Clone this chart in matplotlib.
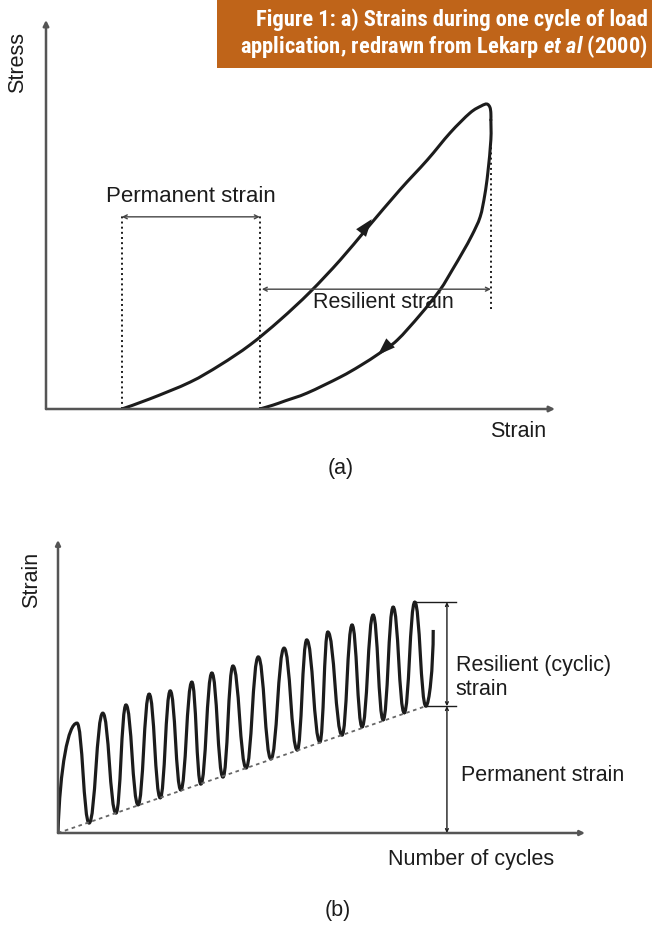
import matplotlib
matplotlib.use("Agg")
import matplotlib.pyplot as plt
from matplotlib import font_manager
from matplotlib.path import Path
from matplotlib.patches import PathPatch, Rectangle

#### Data ####
# (a) one load cycle: strain / stress on a 0-100 scale
load_strain = [14.9, 20.4, 28.3, 34.2, 40.1, 46.0, 51.9, 57.8, 63.1, 69.5, 74.9, 79.4, 83.3, 85.5, 86.6, 87.2, 87.4, 87.4]
load_stress = [0.0, 2.6, 6.9, 11.3, 16.5, 22.9, 30.1, 38.3, 46.5, 56.3, 64.0, 71.0, 76.1, 77.9, 78.4, 77.6, 76.1, 74.3]
unload_strain = [87.4, 87.4, 86.8, 86.2, 85.3, 83.7, 81.9, 79.8, 77.4, 73.5, 69.0, 65.6, 61.7, 57.8, 51.3, 47.0, 44.6, 42.0]
unload_stress = [74.3, 69.2, 60.7, 55.0, 49.4, 44.7, 40.4, 35.7, 30.6, 24.2, 17.7, 14.4, 11.1, 8.2, 4.1, 2.1, 1.0, 0.0]
perm_start, perm_end = 14.9, 42.0  # permanent strain
res_end = 87.4                     # end of resilient strain
perm_level, res_level = 49.4, 30.8

# (b) strain vs number of cycles: peaks and troughs
peak_x = [3.6, 8.5, 12.9, 17.3, 21.3, 25.4, 29.2, 33.2, 38.0, 42.9, 47.2, 51.2, 55.8, 59.8, 63.6, 67.7]
peak_y = [37.5, 40.9, 43.7, 47.4, 48.5, 51.5, 54.6, 57.0, 60.1, 63.1, 65.9, 68.6, 71.0, 74.4, 77.1, 78.8]
trough_x = [5.9, 11.0, 15.2, 19.4, 23.3, 27.1, 31.3, 35.7, 40.4, 45.4, 49.7, 53.9, 57.7, 61.7, 65.7, 69.8]
trough_y = [3.4, 6.8, 9.6, 12.0, 14.7, 16.7, 19.1, 22.2, 25.3, 28.3, 31.1, 33.4, 36.2, 38.6, 41.0, 43.3]
last_x, last_y = 71.2, 69.3  # partial last cycle

INK = "#1c1c1c"
AXC = "#555555"
FS = 15.5
plt.rcParams["font.family"] = ["Liberation Sans", "DejaVu Sans"]

# title needs a narrow bold face, take one if it is there
title_family, title_size, title_stretch = "Roboto", 13.5, "normal"
for f in font_manager.fontManager.ttflist:
    if f.name in ("Liberation Sans Narrow", "Roboto Condensed", "Open Sans Condensed"):
        title_family, title_size, title_stretch = f.name, 16.2, "normal"
        break
    if f.name == "DejaVu Sans" and str(f.stretch) in ("condensed", "semi-condensed"):
        title_family, title_size, title_stretch = "DejaVu Sans", 14, "condensed"
plt.rcParams["mathtext.fontset"] = "custom"
plt.rcParams["mathtext.rm"] = title_family + ":bold"
plt.rcParams["mathtext.it"] = title_family + ":italic:bold"


def smooth(xs, ys):
    # Catmull-Rom spline through the points, drawn as bezier path
    pts = list(zip(xs, ys))
    verts = [pts[0]]
    codes = [Path.MOVETO]
    n = len(pts)
    for i in range(n - 1):
        p0 = pts[max(i - 1, 0)]
        p1 = pts[i]
        p2 = pts[i + 1]
        p3 = pts[min(i + 2, n - 1)]
        c1 = (p1[0] + (p2[0] - p0[0]) / 6, p1[1] + (p2[1] - p0[1]) / 6)
        c2 = (p2[0] - (p3[0] - p1[0]) / 6, p2[1] - (p3[1] - p1[1]) / 6)
        verts += [c1, c2, p2]
        codes += [Path.CURVE4] * 3
    return Path(verts, codes)


def arrow(ax, start, end, style="-|>", color=INK, lw=1.0, ms=10):
    ax.annotate("", xy=end, xytext=start, annotation_clip=False,
                arrowprops=dict(arrowstyle=style, color=color, lw=lw,
                                mutation_scale=ms, shrinkA=0, shrinkB=0))


fig = plt.figure(figsize=(6.52, 9.42), dpi=100)

# title box
fig.add_artist(Rectangle((217 / 652, 1 - 68 / 942), 1, 68 / 942,
                         transform=fig.transFigure, color="#bf6419", lw=0))
fig.text(0.994, 1 - 20 / 942, "Figure 1: a) Strains during one cycle of load",
         ha="right", va="center", color="white", fontsize=title_size,
         family=[title_family, "DejaVu Sans"], stretch=title_stretch, weight="bold")
fig.text(0.994, 1 - 47 / 942, r"application, redrawn from Lekarp $\mathit{et\ al}$ (2000)",
         ha="right", va="center", color="white", fontsize=title_size,
         family=[title_family, "DejaVu Sans"], stretch=title_stretch, weight="bold")

#### Figure (a) ####
ax1 = fig.add_axes([46 / 652, 1 - 409 / 942, (555 - 46) / 652, (409 - 20) / 942])
ax1.set_xlim(0, 100)
ax1.set_ylim(0, 100)
ax1.axis("off")

arrow(ax1, (0, 0), (0, 100), color=AXC, lw=1.8, ms=8)
arrow(ax1, (0, 0), (100, 0), color=AXC, lw=1.8, ms=8)

ax1.add_patch(PathPatch(smooth(load_strain, load_stress), fill=False, lw=2.2, color=INK, capstyle="round"))
ax1.add_patch(PathPatch(smooth(unload_strain, unload_stress), fill=False, lw=2.2, color=INK, capstyle="round"))
# direction arrows on the loop
head = "-|>,head_length=0.9,head_width=0.32"
arrow(ax1, (load_strain[7], load_stress[7]), (64.0, 48.8), style=head, ms=14, lw=0)
arrow(ax1, (unload_strain[9], unload_stress[9]), (65.2, 13.9), style=head, ms=14, lw=0)

# dotted guide lines
ax1.plot([perm_start, perm_start], [0, perm_level + 0.5], ":", color=INK, lw=1.4)
ax1.plot([perm_end, perm_end], [0, perm_level + 0.5], ":", color=INK, lw=1.4)
ax1.plot([res_end, res_end], [res_level - 5, unload_stress[0]], ":", color=INK, lw=1.4)

arrow(ax1, (perm_start, perm_level), (perm_end, perm_level), style="<->", color="#444444", lw=1.0, ms=7)
arrow(ax1, (perm_end + 0.4, res_level), (res_end, res_level), style="<->", color="#444444", lw=1.0, ms=7)

ax1.text((perm_start + perm_end) / 2, 54.5, "Permanent strain", ha="center", va="center", fontsize=FS + 0.5, color=INK)
ax1.text(66.2, 27.3, "Resilient strain", ha="center", va="center", fontsize=FS, color=INK)
ax1.text(-5.5, 89, "Stress", rotation=90, ha="center", va="center", fontsize=FS, color=INK)
ax1.text(92.7, -5.9, "Strain", ha="center", va="center", fontsize=FS, color=INK)
ax1.text(57.8, -15.2, "(a)", ha="center", va="center", fontsize=FS, color=INK)

#### Figure (b) ####
ax2 = fig.add_axes([58 / 652, 1 - 833 / 942, (585 - 58) / 652, (833 - 540) / 942])
ax2.set_xlim(0, 100)
ax2.set_ylim(0, 100)
ax2.axis("off")

arrow(ax2, (0, 0), (0, 100), color=AXC, lw=1.8, ms=7)
arrow(ax2, (0, 0), (100, 0), color=AXC, lw=1.8, ms=7)

# wave through the extremes, flat at each peak and trough
ext_x = [0.0]
ext_y = [0.0]
for i in range(len(peak_x)):
    ext_x += [peak_x[i], trough_x[i]]
    ext_y += [peak_y[i], trough_y[i]]
verts = [(ext_x[0], ext_y[0])]
codes = [Path.MOVETO]
for i in range(len(ext_x) - 1):
    x0, y0, x1, y1 = ext_x[i], ext_y[i], ext_x[i + 1], ext_y[i + 1]
    dx = x1 - x0
    if i == 0:
        c1 = (x0 + 0.1 * dx, y0 + 0.6 * (y1 - y0))
    else:
        c1 = (x0 + 0.45 * dx, y0)
    verts += [c1, (x1 - 0.45 * dx, y1), (x1, y1)]
    codes += [Path.CURVE4] * 3
x0, y0 = ext_x[-1], ext_y[-1]
verts += [(x0 + 0.45 * (last_x - x0), y0), (last_x, y0 + 0.5 * (last_y - y0)), (last_x, last_y)]
codes += [Path.CURVE4] * 3
ax2.add_patch(PathPatch(Path(verts, codes), fill=False, lw=2.3, color=INK))

# permanent strain trend line
ax2.plot([0, trough_x[-1]], [0, trough_y[-1]], "--", color="#666666", lw=1.3, dashes=(2, 2))

# bracket on the right
tick_x = 75.5
bar_x = 73.8
ax2.plot([peak_x[-1], tick_x], [peak_y[-1], peak_y[-1]], color=INK, lw=1.0)
ax2.plot([trough_x[-1], tick_x], [trough_y[-1], trough_y[-1]], color=INK, lw=1.0)
arrow(ax2, (bar_x, peak_y[-1]), (bar_x, trough_y[-1]), style="<->", color=INK, lw=1.0, ms=5)
arrow(ax2, (bar_x, trough_y[-1]), (bar_x, 0), style="<->", color=INK, lw=1.0, ms=5)

ax2.text(75.5, 53.2, "Resilient (cyclic)\nstrain", ha="left", va="center", fontsize=FS, color=INK, linespacing=1.2)
ax2.text(76.5, 19.5, "Permanent strain", ha="left", va="center", fontsize=FS, color=INK)
ax2.text(78.4, -9.2, "Number of cycles", ha="center", va="center", fontsize=FS, color=INK)
ax2.text(-5.1, 86.3, "Strain", rotation=90, ha="center", va="center", fontsize=FS, color=INK)
ax2.text(53.1, -26.3, "(b)", ha="center", va="center", fontsize=FS, color=INK)

fig.savefig("out.png", dpi=100)
